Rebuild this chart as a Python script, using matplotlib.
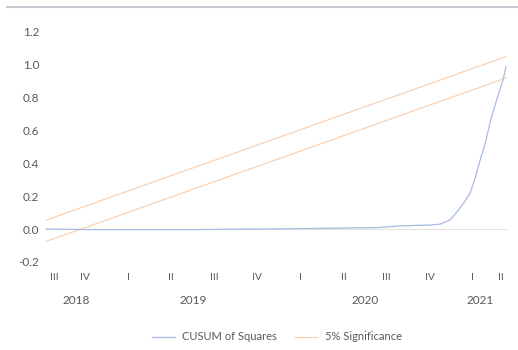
import matplotlib.pyplot as plt
from matplotlib.lines import Line2D

# x positions are months counted from 1 July 2018
cusum_x = [1.8, 5.5, 11.8, 19.5, 25.0, 26.4, 28.5, 29.2, 29.9, 30.25, 30.6, 30.95,
           31.3, 31.65, 32.0, 32.35, 32.75, 33.2, 33.6, 33.8]
cusum_y = [0.0, -0.003, -0.003, 0.003, 0.01, 0.02, 0.025, 0.03, 0.055, 0.09, 0.13, 0.17,
           0.22, 0.31, 0.42, 0.52, 0.67, 0.80, 0.91, 0.99]

# 5% significance bounds (straight lines)
sig_x = [1.8, 33.8]
sig_upper = [0.055, 1.05]
sig_lower = [-0.075, 0.92]

# quarter labels and the month they start at
quarter_labels = ['III', 'IV', 'I', 'II', 'III', 'IV', 'I', 'II', 'III', 'IV', 'I', 'II']
quarter_start = [0, 3, 6, 9, 12, 15, 18, 21, 24, 27, 30, 33]
years = ['2018', '2019', '2020', '2021']
year_start = [0, 6, 18, 30]
year_end = [6, 18, 30, 36]

x_min, x_max = 1.72, 33.94
text_col = '#595959'
font = 'Lato'

fig = plt.figure(figsize=(5.18, 3.5), dpi=100)
ax = fig.add_axes([45 / 518, 1 - 262 / 350, 463 / 518, 230 / 350])

ax.axhline(0, color='#e3e3e3', lw=0.8, zorder=1)
ax.plot(cusum_x, cusum_y, color='#a6bce3', lw=0.9, label='CUSUM of Squares', zorder=3)
ax.plot(sig_x, sig_upper, color='#f8d2b6', lw=0.9, label='5% Significance', zorder=2)
ax.plot(sig_x, sig_lower, color='#f8d2b6', lw=0.9, zorder=2)

ax.set_xlim(x_min, x_max)
ax.set_ylim(-0.2, 1.2)
ax.set_yticks([-0.2, 0.0, 0.2, 0.4, 0.6, 0.8, 1.0, 1.2])
ax.set_yticklabels(['-0.2', '0.0', '0.2', '0.4', '0.6', '0.8', '1.0', '1.2'],
                   fontsize=8.5, color=text_col, family=font)
ax.tick_params(axis='y', length=0, pad=4)

# quarter labels centred on the visible part of each quarter
q_pos = []
for s in quarter_start:
    lo = max(s, x_min)
    hi = min(s + 3, x_max)
    q_pos.append((lo + hi) / 2)
ax.set_xticks(q_pos)
ax.set_xticklabels(quarter_labels, fontsize=7.5, color=text_col, family=font)
ax.tick_params(axis='x', length=0, pad=8)

# year labels on the second level
trans = ax.get_xaxis_transform()
for yr, s, e in zip(years, year_start, year_end):
    mid = (max(s, x_min) + min(e, x_max)) / 2
    ax.text(mid, -38 / 230, yr, transform=trans, ha='center', va='center',
            fontsize=8.5, color=text_col, family=font)

for side in ['top', 'right', 'left', 'bottom']:
    ax.spines[side].set_visible(False)

fig.legend(loc='center', bbox_to_anchor=(0.535, 1 - 337 / 350), ncol=2, frameon=False,
           handlelength=2.0, columnspacing=1.6, handletextpad=0.7,
           prop={'family': font, 'size': 8}, labelcolor=text_col)

# thin border line across the top of the chart
fig.add_artist(Line2D([7 / 518, 1.0], [1 - 7 / 350, 1 - 7 / 350], color='#c5ccd4', lw=1.5))

fig.savefig('out.png', dpi=100, facecolor='white')
